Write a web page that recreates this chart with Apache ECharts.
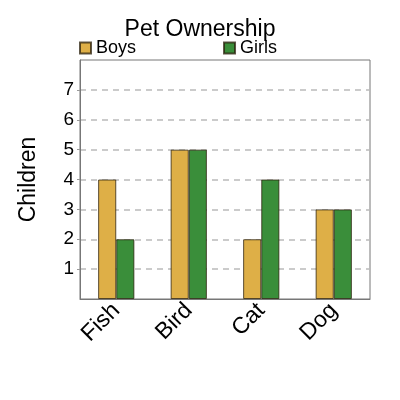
<!DOCTYPE html>
<html>
<head>
<meta charset="utf-8">
<script src="https://cdn.jsdelivr.net/npm/echarts@6/dist/echarts.min.js"></script>
<style>
  html, body { margin: 0; padding: 0; background: #fff; }
  #chart { width: 400px; height: 400px; }
</style>
</head>
<body>
<div id="chart"></div>
<script>
var categories = ['Fish', 'Bird', 'Cat', 'Dog'];
var boys = [4, 5, 2, 3];
var girls = [2, 5, 4, 3];
var yTicks = [1, 2, 3, 4, 5, 6, 7];

var chart = echarts.init(document.getElementById('chart'));
var font = 'Liberation Sans, Arial, sans-serif';

function barStyle(color) {
    return {
        color: color,
        borderColor: 'rgba(40,30,10,0.75)',
        borderWidth: 1
    };
}

chart.setOption({
    animation: false,
    textStyle: { fontFamily: font },
    title: {
        text: 'Pet Ownership',
        left: 'center',
        top: 13,
        textStyle: { fontFamily: font, fontSize: 23, fontWeight: 'normal', color: '#000' }
    },
    legend: {
        left: 79,
        top: 39,
        padding: 0,
        itemWidth: 11,
        itemHeight: 11,
        itemGap: 87,
        icon: 'rect',
        textStyle: { fontFamily: font, fontSize: 18, color: '#000' },
        data: ['Boys', 'Girls']
    },
    grid: {
        left: 80,
        right: 30,
        top: 60,
        bottom: 101,
        show: true,
        borderColor: '#777',
        borderWidth: 1
    },
    xAxis: {
        type: 'category',
        data: categories,
        axisLine: { lineStyle: { color: '#777' } },
        axisTick: { show: false },
        axisLabel: {
            rotate: 45,
            fontFamily: font,
            fontSize: 23,
            color: '#000',
            margin: 8
        }
    },
    yAxis: {
        type: 'value',
        min: 0,
        max: 8,
        interval: 1,
        name: 'Children',
        nameLocation: 'middle',
        nameGap: 40,
        nameTextStyle: { fontFamily: font, fontSize: 23, color: '#000' },
        axisLine: { show: true, lineStyle: { color: '#777' } },
        axisTick: {
            show: true,
            length: 3,
            lineStyle: { color: '#999' },
            customValues: yTicks
        },
        axisLabel: {
            fontFamily: font,
            fontSize: 19,
            color: '#000',
            margin: 6,
            customValues: yTicks
        },
        splitLine: {
            show: true,
            lineStyle: { color: '#bbb', type: [6, 5], width: 1.5 }
        }
    },
    series: [
        {
            name: 'Boys',
            type: 'bar',
            data: boys,
            barGap: '0%',
            barCategoryGap: '50%',
            itemStyle: barStyle('#deaf47')
        },
        {
            name: 'Girls',
            type: 'bar',
            data: girls,
            barGap: '0%',
            barCategoryGap: '50%',
            itemStyle: barStyle('#3a8e3a')
        }
    ]
});
</script>
</body>
</html>
